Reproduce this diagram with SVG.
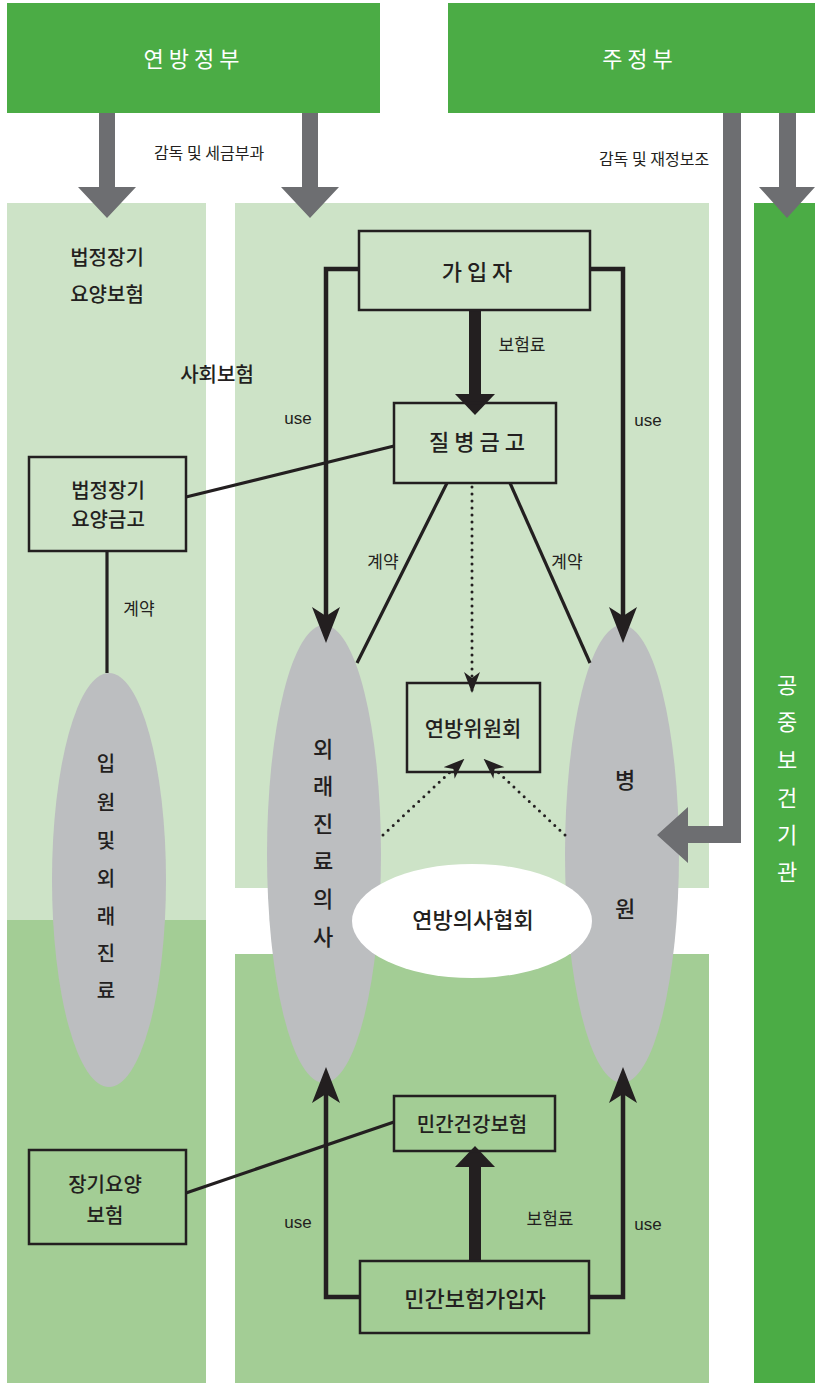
<svg xmlns="http://www.w3.org/2000/svg" width="815" height="1383" viewBox="0 0 815 1383">
<style>
.k{font-family:"Noto Sans CJK KR","Noto Sans",sans-serif;fill:#231f20;}
.w{font-family:"Noto Sans CJK KR","Noto Sans",sans-serif;fill:#ffffff;}
.u{font-family:"Liberation Sans","Noto Sans",sans-serif;fill:#231f20;font-size:17px;}
.box{fill:none;stroke:#231f20;stroke-width:2.5;}
.ln{fill:none;stroke:#231f20;stroke-width:3.2;}
.use{fill:none;stroke:#231f20;stroke-width:4.5;stroke-linejoin:miter;}
.dot{fill:none;stroke:#231f20;stroke-width:3;stroke-linecap:round;stroke-dasharray:0 7;}
.thick{fill:none;stroke:#231f20;stroke-width:12;}
.garrow{fill:#6d6e71;}
.gray{fill:#bcbec0;}
</style>
<defs>
<marker id="barb" viewBox="0 0 36 28" refX="24" refY="14" markerWidth="36" markerHeight="28" markerUnits="userSpaceOnUse" orient="auto">
<path d="M0,0 L36,14 L0,28 L9,14 z" fill="#231f20"/>
</marker>
<marker id="sbarb" viewBox="0 0 21 16" refX="19" refY="8" markerWidth="21" markerHeight="16" markerUnits="userSpaceOnUse" orient="auto">
<path d="M0,0 L21,8 L0,16 L6,8 z" fill="#231f20"/>
</marker>
<marker id="tri" viewBox="0 0 21 40" refX="1" refY="20" markerWidth="21" markerHeight="40" markerUnits="userSpaceOnUse" orient="auto">
<path d="M0,0 L21,20 L0,40 z" fill="#231f20"/>
</marker>
</defs>

<g id="backgrounds">
<rect x="7" y="203" width="199" height="717" fill="#cde3c7"/>
<rect x="7" y="920" width="199" height="463" fill="#a3cd95"/>
<rect x="235" y="203" width="474" height="685" fill="#cde3c7"/>
<rect x="235" y="954" width="474" height="429" fill="#a3cd95"/>
</g>

<g id="federal">
<rect x="7" y="3" width="373" height="110" fill="#4bac45"/>
<text class="w" x="194" y="57" font-size="22" text-anchor="middle" dominant-baseline="central" letter-spacing="5">연방정부</text>
</g>
<g id="state">
<rect x="448" y="3" width="367" height="110" fill="#4bac45"/>
<text class="w" x="640" y="57" font-size="22" text-anchor="middle" dominant-baseline="central" letter-spacing="5">주정부</text>
</g>
<g id="public-health">
<rect x="754" y="203" width="61" height="1180" fill="#4bac45"/>
<text class="w" x="787" font-size="22" text-anchor="middle" dominant-baseline="central">
<tspan x="787" y="683">공</tspan><tspan x="787" y="720">중</tspan><tspan x="787" y="758">보</tspan><tspan x="787" y="796">건</tspan><tspan x="787" y="833">기</tspan><tspan x="787" y="870">관</tspan>
</text>
</g>

<g id="labels">
<text class="k" x="107" y="256" font-size="20" font-weight="500" text-anchor="middle" dominant-baseline="central">법정장기</text>
<text class="k" x="107" y="293" font-size="20" font-weight="500" text-anchor="middle" dominant-baseline="central">요양보험</text>
<text class="k" x="217" y="373" font-size="20" font-weight="500" text-anchor="middle" dominant-baseline="central">사회보험</text>
</g>

<g id="inpatient">
<ellipse class="gray" cx="109" cy="880" rx="57" ry="207"/>
<text class="k" font-size="20" font-weight="500" text-anchor="middle" dominant-baseline="central">
<tspan x="106" y="762">입</tspan><tspan x="106" y="801">원</tspan><tspan x="106" y="839">및</tspan><tspan x="106" y="877">외</tspan><tspan x="106" y="915">래</tspan><tspan x="106" y="952">진</tspan><tspan x="106" y="989">료</tspan>
</text>
</g>

<g id="outpatient-doctor">
<ellipse class="gray" cx="324" cy="854" rx="57" ry="229"/>
<text class="k" font-size="22" font-weight="500" text-anchor="middle" dominant-baseline="central">
<tspan x="323" y="747">외</tspan><tspan x="323" y="784">래</tspan><tspan x="323" y="822">진</tspan><tspan x="323" y="859">료</tspan><tspan x="323" y="897">의</tspan><tspan x="323" y="935">사</tspan>
</text>
</g>

<g id="hospital">
<ellipse class="gray" cx="622" cy="854" rx="57" ry="229"/>
<text class="k" font-size="22" font-weight="500" text-anchor="middle" dominant-baseline="central">
<tspan x="625" y="778">병</tspan><tspan x="625" y="907">원</tspan>
</text>
</g>

<g id="medical-association">
<ellipse cx="472" cy="921" rx="120" ry="57" fill="#ffffff"/>
<text class="k" x="473" y="918" font-size="22" font-weight="500" text-anchor="middle" dominant-baseline="central">연방의사협회</text>
</g>

<g id="connectors">
<path class="garrow" d="M99,113 H115 V187 H136 L107,218 L78,187 H99 z"/>
<path class="garrow" d="M302,113 H318 V187 H339 L310,218 L281,187 H302 z"/>
<path class="garrow" d="M779,113 H796 V187 H815 L787,218 L759,187 H779 z"/>
<path class="garrow" d="M723,113 H741 V843 H688 V863 L657,835 L688,807 V826 H723 z"/>
<path class="use" d="M359,269 H326 V631" marker-end="url(#barb)"/>
<path class="use" d="M590,269 H623 V631" marker-end="url(#barb)"/>
<path class="use" d="M360,1297 H326 V1079" marker-end="url(#barb)"/>
<path class="use" d="M589,1297 H623 V1079" marker-end="url(#barb)"/>
<path class="thick" d="M475,310 V395" marker-end="url(#tri)"/>
<path class="thick" d="M475,1261 V1166" marker-end="url(#tri)"/>
<path class="ln" d="M186,497 L394,446"/>
<path class="ln" d="M107,551 V673"/>
<path class="ln" d="M447,483 L357,663"/>
<path class="ln" d="M510,483 L590,663"/>
<path class="ln" d="M186,1193 L394,1122"/>
<path class="dot" d="M472,487 V691" marker-end="url(#sbarb)"/>
<path class="dot" d="M383,835 L463,760" marker-end="url(#sbarb)"/>
<path class="dot" d="M565,835 L485,760" marker-end="url(#sbarb)"/>
<text class="k" x="209" y="152" font-size="16" text-anchor="middle" dominant-baseline="central">감독 및 세금부과</text>
<text class="k" x="654" y="158" font-size="16" text-anchor="middle" dominant-baseline="central">감독 및 재정보조</text>
<text class="k" x="522" y="343" font-size="17" text-anchor="middle" dominant-baseline="central">보험료</text>
<text class="k" x="550" y="1217" font-size="17" text-anchor="middle" dominant-baseline="central">보험료</text>
<text class="u" x="298" y="424" text-anchor="middle">use</text>
<text class="u" x="648" y="426" text-anchor="middle">use</text>
<text class="u" x="298" y="1228" text-anchor="middle">use</text>
<text class="u" x="648" y="1230" text-anchor="middle">use</text>
<text class="k" x="139" y="607" font-size="17" text-anchor="middle" dominant-baseline="central">계약</text>
<text class="k" x="383" y="560" font-size="17" text-anchor="middle" dominant-baseline="central">계약</text>
<text class="k" x="567" y="560" font-size="17" text-anchor="middle" dominant-baseline="central">계약</text>
</g>

<g id="ltc-fund">
<rect class="box" x="29" y="457" width="157" height="94"/>
<text class="k" x="108" y="489" font-size="20" font-weight="500" text-anchor="middle" dominant-baseline="central">법정장기</text>
<text class="k" x="108" y="518" font-size="20" font-weight="500" text-anchor="middle" dominant-baseline="central">요양금고</text>
</g>
<g id="subscriber">
<rect class="box" x="359" y="231" width="231" height="79"/>
<text class="k" x="477" y="270" font-size="22" font-weight="500" text-anchor="middle" dominant-baseline="central">가 입 자</text>
</g>
<g id="sickness-fund">
<rect class="box" x="394" y="403" width="162" height="80"/>
<text class="k" x="477" y="440" font-size="22" font-weight="500" text-anchor="middle" dominant-baseline="central">질 병 금 고</text>
</g>
<g id="federal-committee">
<rect class="box" x="407" y="683" width="133" height="89"/>
<text class="k" x="473" y="727" font-size="21" font-weight="500" text-anchor="middle" dominant-baseline="central">연방위원회</text>
</g>
<g id="private-insurance">
<rect class="box" x="394" y="1096" width="161" height="55"/>
<text class="k" x="472" y="1123" font-size="20" font-weight="500" text-anchor="middle" dominant-baseline="central">민간건강보험</text>
</g>
<g id="ltc-insurance">
<rect class="box" x="29" y="1150" width="157" height="94"/>
<text class="k" x="105" y="1183" font-size="20" font-weight="500" text-anchor="middle" dominant-baseline="central">장기요양</text>
<text class="k" x="105" y="1214" font-size="20" font-weight="500" text-anchor="middle" dominant-baseline="central">보험</text>
</g>
<g id="private-subscriber">
<rect class="box" x="360" y="1261" width="229" height="72"/>
<text class="k" x="475" y="1297" font-size="22" font-weight="500" text-anchor="middle" dominant-baseline="central">민간보험가입자</text>
</g>
</svg>
